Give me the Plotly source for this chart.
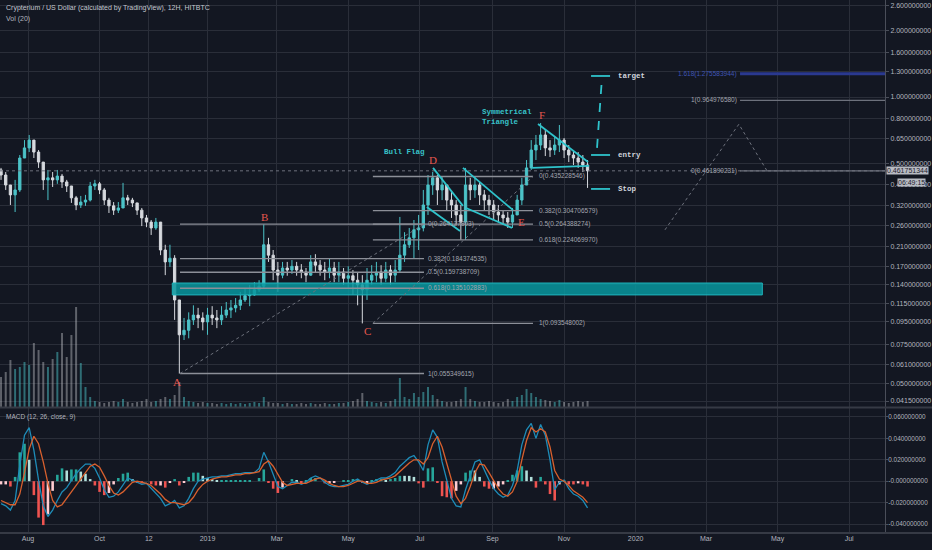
import numpy as np
import pandas as pd
import plotly.graph_objects as go

# ---------------- data ----------------
start_date = "2018-07-09"
bar_count = 126
dates = pd.date_range(start_date, periods=bar_count, freq="4D")

first_open = 0.466
close = [0.442, 0.398, 0.359, 0.378, 0.528, 0.587, 0.637, 0.562, 0.506, 0.420,
         0.429, 0.420, 0.437, 0.411, 0.394, 0.348, 0.323, 0.333, 0.340, 0.394,
         0.403, 0.378, 0.340, 0.320, 0.306, 0.313, 0.348, 0.340, 0.330, 0.306,
         0.282, 0.270, 0.254, 0.270, 0.2016, 0.178, 0.185, 0.1195, 0.083, 0.087,
         0.097, 0.102, 0.099, 0.095, 0.102, 0.099, 0.097, 0.102, 0.1076, 0.110,
         0.113, 0.1195, 0.125, 0.126, 0.133, 0.138, 0.213, 0.191, 0.1635, 0.155,
         0.167, 0.1635, 0.170, 0.1635, 0.160, 0.155, 0.178, 0.172, 0.1635, 0.160,
         0.167, 0.155, 0.160, 0.150, 0.154, 0.147, 0.140, 0.133, 0.147, 0.155,
         0.160, 0.150, 0.1635, 0.155, 0.1635, 0.191, 0.213, 0.229, 0.249, 0.254,
         0.323, 0.398, 0.429, 0.378, 0.398, 0.340, 0.323, 0.291, 0.270, 0.398,
         0.378, 0.398, 0.359, 0.340, 0.323, 0.300, 0.291, 0.282, 0.270, 0.291,
         0.340, 0.398, 0.476, 0.574, 0.605, 0.672, 0.587, 0.574, 0.605, 0.637,
         0.574, 0.545, 0.528, 0.506, 0.491, 0.4618]
high = [0.476, 0.456, 0.398, 0.420, 0.545, 0.637, 0.672, 0.618, 0.574, 0.506,
        0.466, 0.456, 0.466, 0.447, 0.420, 0.394, 0.355, 0.355, 0.359, 0.411,
        0.420, 0.411, 0.386, 0.348, 0.333, 0.333, 0.407, 0.359, 0.348, 0.330,
        0.313, 0.291, 0.276, 0.282, 0.270, 0.213, 0.213, 0.191, 0.1195, 0.099,
        0.105, 0.113, 0.110, 0.105, 0.110, 0.112, 0.1076, 0.112, 0.117, 0.1195,
        0.122, 0.130, 0.135, 0.140, 0.144, 0.147, 0.264, 0.229, 0.2016, 0.178,
        0.178, 0.178, 0.1815, 0.178, 0.174, 0.167, 0.191, 0.193, 0.1815, 0.178,
        0.185, 0.178, 0.178, 0.167, 0.170, 0.1635, 0.160, 0.155, 0.167, 0.172,
        0.178, 0.172, 0.178, 0.172, 0.1815, 0.285, 0.243, 0.254, 0.276, 0.291,
        0.378, 0.442, 0.456, 0.442, 0.437, 0.398, 0.370, 0.340, 0.323, 0.476,
        0.429, 0.437, 0.411, 0.378, 0.359, 0.340, 0.323, 0.306, 0.300, 0.313,
        0.359, 0.429, 0.517, 0.637, 0.672, 0.762, 0.708, 0.637, 0.658, 0.746,
        0.651, 0.605, 0.574, 0.562, 0.545, 0.517]
low = [0.420, 0.378, 0.323, 0.300, 0.370, 0.528, 0.562, 0.528, 0.476, 0.378,
       0.340, 0.390, 0.403, 0.386, 0.370, 0.330, 0.306, 0.313, 0.320, 0.335,
       0.378, 0.362, 0.323, 0.297, 0.291, 0.297, 0.313, 0.323, 0.316, 0.291,
       0.259, 0.256, 0.236, 0.249, 0.191, 0.155, 0.169, 0.097, 0.0553, 0.0786,
       0.080, 0.092, 0.089, 0.087, 0.083, 0.092, 0.089, 0.092, 0.099, 0.099,
       0.105, 0.1076, 0.117, 0.112, 0.125, 0.130, 0.135, 0.178, 0.147, 0.130,
       0.150, 0.154, 0.157, 0.154, 0.150, 0.144, 0.154, 0.160, 0.154, 0.147,
       0.150, 0.144, 0.144, 0.140, 0.135, 0.126, 0.113, 0.0935, 0.1195, 0.140,
       0.144, 0.140, 0.144, 0.140, 0.144, 0.160, 0.178, 0.206, 0.185, 0.2016,
       0.245, 0.291, 0.359, 0.323, 0.340, 0.306, 0.282, 0.262, 0.224, 0.224,
       0.340, 0.348, 0.323, 0.306, 0.291, 0.276, 0.270, 0.262, 0.254, 0.254,
       0.291, 0.323, 0.398, 0.466, 0.517, 0.574, 0.539, 0.534, 0.545, 0.562,
       0.528, 0.506, 0.491, 0.476, 0.456, 0.386]
volume = [30, 35, 47, 38, 40, 45, 42, 64, 57, 45, 40, 48, 55, 74, 50, 72, 100, 44,
          20, 10, 6, 5, 4, 5, 6, 5, 8, 5, 4, 5, 6, 8, 5, 6, 8, 10, 8, 12,
          25,
          10, 6, 5, 4, 5, 4, 4, 3, 4, 3, 4, 3, 4, 3, 4, 5, 4,
          10,
          5, 4, 4, 3, 4, 3, 3, 4, 3, 4, 3, 3, 4, 3, 3, 4, 4, 5, 6, 8,
          14,
          6, 5, 4, 5, 4, 6, 8,
          29,
          10, 8, 14, 10, 15, 20, 12, 8, 6, 5, 5, 6, 8,
          20,
          8, 6, 5, 5, 6, 5, 4, 5, 8, 6,
          10, 12, 18, 14, 10, 8, 7,
          6, 5, 7, 5, 4, 5, 6, 5, 6]
macd = [-0.021, -0.023, -0.027, -0.018, 0.015, 0.043, 0.050, 0.029, 0.001, -0.023,
        -0.033, -0.027, -0.018, -0.010, -0.006, 0.001, 0.007, 0.012, 0.016, 0.016,
        0.012, 0.003, -0.008, -0.015, -0.014, -0.010, -0.003, 0.003, 0.001, -0.001,
        -0.003, -0.002, -0.007, -0.012, -0.016, -0.023, -0.021, -0.018, -0.025, -0.023,
        -0.016, -0.007, 0.000, 0.002, 0.003, 0.004, 0.004, 0.005, 0.005, 0.006,
        0.007, 0.007, 0.008, 0.008, 0.008, 0.012, 0.027, 0.018, 0.007, -0.005,
        -0.007, -0.004, -0.001, -0.001, -0.003, -0.001, 0.003, 0.005, 0.003, -0.001,
        -0.004, -0.005, -0.005, -0.004, -0.003, 0.000, 0.002, -0.001, -0.003, -0.001,
        0.001, 0.003, 0.003, 0.005, 0.008, 0.014, 0.018, 0.022, 0.024, 0.018,
        0.010, 0.034, 0.048, 0.041, 0.018, 0.001, -0.016, -0.023, -0.024, -0.008,
        0.005, 0.018, 0.020, 0.010, 0.001, -0.007, -0.012, -0.015, -0.013, -0.004,
        0.010, 0.034, 0.048, 0.054, 0.040, 0.053, 0.043, 0.020, -0.008, -0.001,
        0.001, -0.007, -0.012, -0.014, -0.018, -0.025]
signal = [-0.018, -0.020, -0.022, -0.022, -0.012, 0.008, 0.030, 0.042, 0.035, 0.018,
          -0.002, -0.018, -0.024, -0.022, -0.016, -0.010, -0.004, 0.003, 0.009, 0.014,
          0.016, 0.013, 0.005, -0.004, -0.011, -0.013, -0.010, -0.005, -0.001, 0.000,
          -0.001, -0.002, -0.004, -0.008, -0.012, -0.017, -0.020, -0.020, -0.021, -0.022,
          -0.020, -0.015, -0.008, -0.003, 0.000, 0.002, 0.003, 0.004, 0.004, 0.005,
          0.006, 0.006, 0.007, 0.007, 0.008, 0.009, 0.016, 0.019, 0.014, 0.006,
          -0.001, -0.004, -0.003, -0.002, -0.002, -0.002, 0.000, 0.002, 0.003, 0.001,
          -0.002, -0.004, -0.005, -0.005, -0.004, -0.002, 0.000, 0.000, -0.002, -0.002,
          -0.001, 0.001, 0.002, 0.003, 0.005, 0.009, 0.013, 0.017, 0.020, 0.020,
          0.016, 0.022, 0.035, 0.042, 0.032, 0.016, 0.000, -0.014, -0.021, -0.016,
          -0.005, 0.008, 0.016, 0.015, 0.008, 0.000, -0.007, -0.012, -0.014, -0.010,
          0.000, 0.020, 0.038, 0.050, 0.046, 0.049, 0.046, 0.032, 0.010, 0.002,
          0.000, -0.004, -0.009, -0.012, -0.015, -0.020]

price_ticks = [2.6, 2.0, 1.6, 1.3, 1.0, 0.8, 0.65, 0.5, 0.4, 0.32, 0.26, 0.21, 0.17,
               0.14, 0.115, 0.095, 0.075, 0.061, 0.05, 0.0415]
macd_ticks = [0.06, 0.04, 0.02, 0.0, -0.02, -0.04]
macd_tick_labels = ["0.060000000", "0.040000000", "0.020000000", "-0.000000000",
                    "-0.020000000", "-0.040000000"]
date_ticks = ["2018-08-01", "2018-10-01", "2018-11-12", "2019-01-01", "2019-03-01",
              "2019-05-01", "2019-07-01", "2019-09-01", "2019-11-01", "2020-01-01",
              "2020-03-01", "2020-05-01", "2020-07-01"]
date_labels = ["Aug", "Oct", "12", "2019", "Mar", "May", "Jul", "Sep", "Nov", "2020",
               "Mar", "May", "Jul"]

last_price = 0.461751344
countdown = "06:49:15"

fib_levels = [0, 0.382, 0.5, 0.618, 1]
fib_ab_prices = [0.264127803, 0.184374535, 0.159738709, 0.135102883, 0.055349615]
fib_cd_prices = [0.435228546, 0.304706579, 0.264388274, 0.224069970, 0.093548002]
fib_ext_levels = [1.618, 1, 0]
fib_ext_prices = [1.275583944, 0.964976580, 0.461890231]

# ---------------- drawing anchors (dates / prices) ----------------
x_view = ["2018-07-08 03:00", "2020-07-31 14:00"]
fib_ab_x = ["2018-12-08 14:00", "2019-07-04 14:00"]
fib_ab_label_x = "2019-07-06"
fib_cd_x = ["2019-05-22", "2019-10-05 12:00"]
fib_cd_label_x = "2019-10-08 22:00"
fib_ext_x = ["2020-03-30", "2020-07-31 14:00"]
fib_ext_label_x = "2020-03-29"
ext_path_x = ["2020-01-26", "2020-03-29", "2020-04-22"]
ext_path_y = [0.249, 0.752, 0.4619]
zone_x = ["2018-12-02", "2020-04-18"]
zone_y = [0.126, 0.1427]
flag_lines = [
    (["2019-07-12 07:00", "2019-08-06 19:00"], [0.476, 0.320]),
    (["2019-07-07", "2019-08-04 07:00"], [0.316, 0.246]),
    (["2019-08-06 19:00", "2019-09-18 12:00"], [0.476, 0.306]),
    (["2019-08-09 10:00", "2019-09-17 14:00"], [0.313, 0.254]),
    (["2019-10-09 19:00", "2019-11-21 10:00"], [0.754, 0.506]),
    (["2019-10-04 17:00", "2019-11-22 07:00"], [0.476, 0.486]),
]
plan_x = ["2019-11-24", "2019-12-10 05:00"]
plan_names = ["target", "entry", "Stop"]
plan_prices = [1.246, 0.545, 0.382]
plan_text_x = "2019-12-15 07:00"
move_x = ["2019-11-29 02:00", "2019-12-03 07:00"]
move_y = [0.587, 1.22]
pivot_names = ["A", "B", "C", "D", "E", "F"]
pivot_x = ["2018-12-06", "2019-02-19", "2019-05-17", "2019-07-12", "2019-09-26", "2019-10-13"]
pivot_y = [0.0506, 0.285, 0.0864, 0.517, 0.270, 0.828]
pattern_text = ["Bull Flag", "Symmetrical<br>Triangle"]
pattern_x = ["2019-05-29 19:00", "2019-08-21 07:00"]
pattern_y = [0.562, 0.811]

# ---------------- styles ----------------
BG = "#131722"
GRID = "#2a2e39"
AXIS = "#4a4e59"
TXT = "#b2b5be"
UP = "#4cc3c8"
DOWN = "#d6d9de"
TEAL = "#2fc3cb"
FIB = "#8c8f98"
RED = "#e5584e"
FONT = "Liberation Sans, Arial, sans-serif"
MONO = "Liberation Mono, DejaVu Sans Mono, monospace"

opens = [first_open] + close[:-1]
up = [c >= o for c, o in zip(close, opens)]
day_ms = 86400000

fig = go.Figure()

# volume overlay
fig.add_trace(go.Bar(
    x=dates, y=volume, yaxis="y3", xaxis="x", width=1.7 * day_ms,
    marker=dict(color=["rgba(76,195,200,0.5)" if u else "rgba(200,203,208,0.42)" for u in up],
                line=dict(width=0)),
    hoverinfo="skip", showlegend=False))

def seg(xs, ys, color, width=1.0, dash="solid", yaxis="y", fill=None, fillcolor=None):
    fig.add_trace(go.Scatter(x=xs, y=ys, mode="lines", xaxis="x", yaxis=yaxis,
                             line=dict(color=color, width=width, dash=dash),
                             fill=fill, fillcolor=fillcolor,
                             hoverinfo="skip", showlegend=False))

# support zone
seg([zone_x[0], zone_x[1], zone_x[1], zone_x[0], zone_x[0]],
    [zone_y[0], zone_y[0], zone_y[1], zone_y[1], zone_y[0]],
    "#1fb4bb", 1, fill="toself", fillcolor="rgba(8,150,158,0.85)")

# last price dotted line
seg(x_view, [last_price, last_price], "#6d717c", 1, "dot")

# fib A-B and C-D
for fx, prices in ((fib_ab_x, fib_ab_prices), (fib_cd_x, fib_cd_prices)):
    for p in prices:
        seg(fx, [p, p], FIB, 1.3)
    seg(fx, [prices[-1], prices[0]], "#6d717c", 1, "dot")

# fib extension (right)
for lvl, p in zip(fib_ext_levels, fib_ext_prices):
    seg(fib_ext_x, [p, p], "#2a3990" if lvl == 1.618 else "#6d717c", 3 if lvl == 1.618 else 1.3)
seg(ext_path_x, ext_path_y, "#6d717c", 1, "dot")

# candles
fig.add_trace(go.Candlestick(
    x=dates, open=opens, high=high, low=low, close=close, xaxis="x", yaxis="y",
    increasing=dict(line=dict(color=UP, width=1), fillcolor=UP),
    decreasing=dict(line=dict(color=DOWN, width=1), fillcolor=DOWN),
    whiskerwidth=0, hoverinfo="skip", showlegend=False))

# pattern drawings
for xs, ys in flag_lines:
    seg(xs, ys, TEAL, 1.8)
for p in plan_prices:
    seg(plan_x, [p, p], TEAL, 1.8)
seg(move_x, move_y, TEAL, 1.8, "dash")

# MACD pane
hist = [m - s for m, s in zip(macd, signal)]
hist_colors = []
for i, h in enumerate(hist):
    prev = hist[i - 1] if i else h
    if h >= 0:
        hist_colors.append("#26a69a" if h >= prev else "#b2dfdb")
    else:
        hist_colors.append("#ef5350" if h < prev else "#ffcdd2")
fig.add_trace(go.Bar(x=dates, y=hist, xaxis="x", yaxis="y2", width=2.2 * day_ms,
                     marker=dict(color=hist_colors, line=dict(width=0)),
                     hoverinfo="skip", showlegend=False))
seg(dates, macd, "#1e8cb8", 1.3, yaxis="y2")
seg(dates, signal, "#d8602e", 1.3, yaxis="y2")

# ---------------- annotations ----------------
def note(x, price, text, color, size, family=FONT, xanchor="left", weight="normal"):
    fig.add_annotation(x=x, y=np.log10(price), xref="x", yref="y", text=text,
                       showarrow=False, xanchor=xanchor, yanchor="middle", align="left",
                       font=dict(color=color, size=size, family=family, weight=weight))

for lvl, p in zip(fib_levels, fib_ab_prices):
    note(fib_ab_label_x, p, f"{lvl:g}({p:.9f})", "#a3a6af", 6.5)
for lvl, p in zip(fib_levels, fib_cd_prices):
    note(fib_cd_label_x, p, f"{lvl:g}({p:.9f})", "#a3a6af", 6.5)
for lvl, p in zip(fib_ext_levels, fib_ext_prices):
    note(fib_ext_label_x, p, f"{lvl:g}({p:.9f})", "#3f55b5" if lvl == 1.618 else "#a3a6af", 6.5,
         xanchor="right")
for name, p in zip(plan_names, plan_prices):
    note(plan_text_x, p, name, "#d1d4dc", 7.5, MONO, weight="bold")
for name, x, p in zip(pivot_names, pivot_x, pivot_y):
    note(x, p, name, RED, 11, "Liberation Serif, serif", xanchor="center")
for t, x, p in zip(pattern_text, pattern_x, pattern_y):
    note(x, p, t, "#38c2c9", 7.5, MONO, weight="bold")

def label(xp, yp, text, size=7.5, color=TXT):
    fig.add_annotation(x=xp, y=yp, xref="paper", yref="paper", text=text, showarrow=False,
                       xanchor="left", yanchor="middle", font=dict(color=color, size=size, family=FONT))

label(0.004, 1 - 8 / 533, "Crypterium / US Dollar (calculated by TradingView), 12H, HITBTC", 7, "#c3c6ce")
label(0.004, 1 - 19 / 533, "Vol (20)", 7)
label(0.004, 1 - 417 / 533, "MACD (12, 26, close, 9)", 6.5)

fig.add_annotation(x=1, y=np.log10(last_price), xref="paper", yref="y", text=f"{last_price:.9f}",
                   showarrow=False, xanchor="left", yanchor="middle", xshift=1,
                   bgcolor="#b8bbc3", borderpad=0,
                   font=dict(color="#1e222d", size=7, family=FONT))
fig.add_annotation(x=1, y=1 - 182 / 533, xref="paper", yref="paper", text=countdown,
                   showarrow=False, xanchor="left", yanchor="middle", xshift=12,
                   bgcolor="#b8bbc3", borderpad=0,
                   font=dict(color="#1e222d", size=7, family=FONT))

# pane separators
for yp in (1 - 407.5 / 533, 0):
    fig.add_shape(type="line", xref="paper", yref="paper", x0=0, x1=932 / 885, y0=yp, y1=yp,
                  line=dict(color="#363a45", width=2))

axis_font = dict(size=7, color=TXT, family=FONT)
fig.update_layout(
    width=932, height=550, margin=dict(l=0, r=47, t=0, b=17, autoexpand=False),
    paper_bgcolor=BG, plot_bgcolor=BG, showlegend=False, barmode="overlay",
    xaxis=dict(type="date", range=x_view, domain=[0, 1], anchor="y2", automargin=False,
               tickmode="array", tickvals=date_ticks, ticktext=date_labels,
               showgrid=True, gridcolor=GRID, gridwidth=1, zeroline=False,
               showline=False, ticks="", tickfont=axis_font,
               rangeslider=dict(visible=False), fixedrange=True),
    yaxis=dict(type="log", domain=[1 - 407 / 533, 1], range=[-1.4091, 0.4409], automargin=False,
               side="right", anchor="x", tickmode="array", tickvals=price_ticks,
               ticktext=[f"{v:.9f}" for v in price_ticks], showgrid=True, gridcolor=GRID,
               zeroline=False, showline=True, linecolor=AXIS, ticks="outside", ticklen=3,
               tickcolor=AXIS, tickfont=axis_font, fixedrange=True),
    yaxis2=dict(domain=[0, 1 - 408 / 533], range=[-0.0484, 0.0684], side="right", anchor="x",
                automargin=False, tickmode="array", tickvals=macd_ticks, ticktext=macd_tick_labels,
                showgrid=True, gridcolor=GRID, zeroline=False, showline=True, linecolor=AXIS,
                ticks="outside", ticklen=2, tickcolor=AXIS, ticklabelstandoff=-1,
                tickfont=dict(size=6.4, color=TXT, family=FONT), fixedrange=True),
    yaxis3=dict(overlaying="y", range=[0, 407], visible=False, showgrid=False, fixedrange=True),
)

fig.write_html("out.html")
